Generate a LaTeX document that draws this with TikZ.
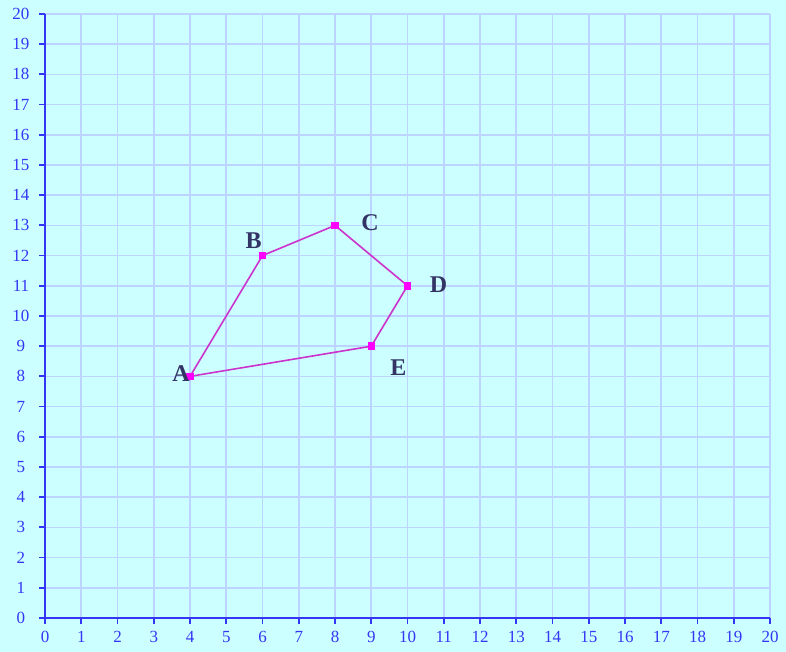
\documentclass[tikz,border=0pt]{standalone}
\usepackage{fontspec}
\setmainfont{Liberation Serif}
\definecolor{bgcol}{HTML}{CCFFFF}
\definecolor{gridcol}{HTML}{BCD4FF}
\definecolor{axiscol}{HTML}{3535F5}
\definecolor{polycol}{HTML}{CC33CC}
\definecolor{ptcol}{HTML}{FF00FF}
\definecolor{lblcol}{HTML}{333366}
\tikzset{
  gridline/.style={draw=gridcol, line width=1.7pt},
  axisline/.style={draw=axiscol, line width=1.8pt},
  ticklbl/.style={text=axiscol, font=\fontsize{17}{17}\selectfont, inner sep=0pt},
  pt/.style={rectangle, fill=ptcol, minimum size=7.5pt, inner sep=0pt},
  ptlbl/.style={text=lblcol, font=\fontsize{24}{24}\selectfont\bfseries, inner sep=0pt},
  polyline/.style={draw=polycol, line width=1.6pt}
}
\begin{document}
\begin{tikzpicture}[x=36.25pt, y=30.2pt]
\fill[bgcol] (-45pt,-34pt) rectangle (741pt,618pt);
\useasboundingbox (-45pt,-34pt) rectangle (741pt,618pt);
% grid
\foreach \i in {1,...,20} {
  \draw[gridline] (\i,0) -- (\i,20);
  \draw[gridline] (0,\i) -- (20,\i);
}
% axes
\draw[axisline] (0,0) -- (20,0);
\draw[axisline] (0,0) -- (0,20);
\foreach \i in {0,...,20} {
  \draw[axisline] (\i,0) -- ++(0,-6pt);
  \draw[axisline] (0,\i) -- ++(-6pt,0);
  \node[ticklbl] (xl\i) at ([yshift=-19pt]\i,0) {\i};
  \node[ticklbl] (yl\i) at ([xshift=-24pt]0,\i) {\i};
}
% points
\node[pt] (A) at (4,8) {};
\node[pt] (B) at (6,12) {};
\node[pt] (C) at (8,13) {};
\node[pt] (D) at (10,11) {};
\node[pt] (E) at (9,9) {};
\draw[polyline] (A.center) -- (B.center) -- (C.center) -- (D.center) -- (E.center) -- cycle;
\node[pt] at (A) {};
\node[pt] at (B) {};
\node[pt] at (C) {};
\node[pt] at (D) {};
\node[pt] at (E) {};
% labels
\node[ptlbl] (lA) at ([xshift=-9pt,yshift=3pt]A) {A};
\node[ptlbl] (lB) at ([xshift=-9pt,yshift=15pt]B) {B};
\node[ptlbl] (lC) at ([xshift=35pt,yshift=3pt]C) {C};
\node[ptlbl] (lD) at ([xshift=31pt,yshift=1pt]D) {D};
\node[ptlbl] (lE) at ([xshift=27pt,yshift=-21pt]E) {E};
\end{tikzpicture}
\end{document}
